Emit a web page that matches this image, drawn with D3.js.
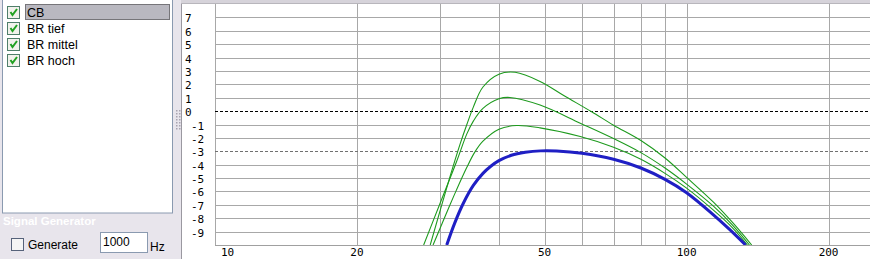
<!DOCTYPE html>
<html><head><meta charset="utf-8">
<script src="https://cdn.jsdelivr.net/npm/d3@7"></script>
<style>html,body{margin:0;padding:0;background:#e8e5ec;overflow:hidden}svg{display:block}</style>
</head><body>
<svg id="c" width="870" height="259"></svg>
<script>
// ---- data ----
const seriesNames = ["CB", "BR tief", "BR mittel", "BR hoch"];
const freqCB = [31.0, 32.2, 33.6, 35.3, 37, 38.5, 40, 42.5, 45.5, 49, 53, 60, 70, 80, 90, 100, 114, 123, 133.4];
const dbCB   = [-10, -8.4, -6.9, -5.55, -4.65, -4.1, -3.7, -3.3, -3.08, -2.97, -2.98, -3.15, -3.6, -4.25, -5.1, -6.1, -7.75, -8.8, -10];
const freqTief = [29.0, 31.5, 32.5, 34.2, 35.5, 37, 40, 43.6, 48.9, 59.5, 70, 80, 90, 100, 114, 125, 134.6];
const dbTief   = [-10, -7.0, -5.9, -4.2, -3.1, -2.25, -1.35, -1.08, -1.25, -1.9, -2.7, -3.6, -4.65, -5.75, -7.4, -8.7, -10];
const freqMittel = [27.7, 30, 32.5, 34.2, 35.3, 37, 40, 42.2, 48.9, 59.5, 70, 80, 90, 100, 114, 125, 135.9];
const dbMittel   = [-10, -6.9, -3.8, -1.7, -0.75, 0.2, 0.92, 1.02, 0.45, -0.9, -2.05, -3.1, -4.25, -5.45, -7.1, -8.5, -10];
const freqHoch = [28.6, 31.5, 33.1, 34.2, 35.3, 37, 40, 43.3, 48.9, 55, 62.9, 70, 80, 90, 100, 114, 125, 137.4];
const dbHoch   = [-10, -4.9, -2.45, -1.0, 0.3, 1.8, 2.76, 2.9, 2.22, 1.15, -0.05, -1.05, -2.2, -3.5, -4.95, -6.8, -8.3, -10];
const gridFreqs = [10, 20, 30, 40, 50, 60, 70, 80, 90, 100, 200, 300];
const labelFreqs = [10, 20, 50, 100, 200];
const yTicks = [7, 6, 5, 4, 3, 2, 1, 0, -1, -2, -3, -4, -5, -6, -7, -8, -9];
const dashedLevels = [0, -3];
const genFreq = "1000";

// ---- layout ----
const svg = d3.select("#c");
const W = 870, H = 259;
const plotL = 215, plotT = 4, plotB = 245;
const x = d3.scaleLog().domain([10, 1000]).range([plotL, plotL + 2 * 471.6]);
const y = d3.scaleLinear().domain([-10, 8]).range([plotB, plotT]);

// left panel background
svg.append("rect").attr("x", 0).attr("y", 0).attr("width", W).attr("height", H).attr("fill", "#e8e5ec");

// list box
svg.append("rect").attr("x", 2.5).attr("y", -1).attr("width", 170).attr("height", 214)
  .attr("fill", "#fff").attr("stroke", "#8a9ab0");
// selected row
svg.append("rect").attr("x", 25).attr("y", 4).attr("width", 145).attr("height", 16)
  .attr("fill", "#b9b8c0");
svg.append("rect").attr("x", 25.5).attr("y", 4.5).attr("width", 144).attr("height", 15)
  .attr("fill", "none").attr("stroke", "#333").attr("stroke-dasharray", "1,1");
const rows = svg.append("g");
seriesNames.forEach((n, i) => {
  const ry = 5 + i * 16;
  const g = rows.append("g");
  g.append("rect").attr("x", 7.5).attr("y", ry + 1.5).attr("width", 12).attr("height", 12)
    .attr("fill", "#f2f2ec").attr("stroke", "#4f7f6a");
  g.append("path").attr("d", `M10.5,${ry + 7} L12.5,${ry + 10} L17,${ry + 4}`)
    .attr("fill", "none").attr("stroke", "#21a121").attr("stroke-width", 2);
  g.append("text").attr("x", 27).attr("y", ry + 12).text(n)
    .attr("font-family", "Liberation Sans, Arial, sans-serif").attr("font-size", 12.5).attr("fill", "#000");
});

// Signal Generator section
svg.append("text").attr("x", 3).attr("y", 225).text("Signal Generator")
  .attr("font-family", "Liberation Sans, Arial, sans-serif").attr("font-size", 11.5).attr("font-weight", "bold")
  .attr("fill", "#fff");
svg.append("rect").attr("x", 11.5).attr("y", 238.5).attr("width", 12).attr("height", 12)
  .attr("fill", "#f4f4f4").attr("stroke", "#56627a");
svg.append("text").attr("x", 28).attr("y", 249).text("Generate")
  .attr("font-family", "Liberation Sans, Arial, sans-serif").attr("font-size", 12).attr("fill", "#000");
svg.append("rect").attr("x", 100.5).attr("y", 232.5).attr("width", 47).attr("height", 20)
  .attr("fill", "#fff").attr("stroke", "#8a9ab0");
svg.append("text").attr("x", 103).attr("y", 246).text(genFreq)
  .attr("font-family", "Liberation Sans, Arial, sans-serif").attr("font-size", 12).attr("fill", "#000");
svg.append("text").attr("x", 150).attr("y", 251).text("Hz")
  .attr("font-family", "Liberation Sans, Arial, sans-serif").attr("font-size", 12).attr("fill", "#000");

// splitter grip
const grip = svg.append("g");
d3.range(7).forEach(i => {
  [176, 179].forEach(gx => {
    grip.append("rect").attr("x", gx).attr("y", 110 + i * 3).attr("width", 1.5).attr("height", 1.5).attr("fill", "#a8a4b0");
  });
});

// chart panel
svg.append("rect").attr("x", 181).attr("y", 0).attr("width", W - 181).attr("height", H).attr("fill", "#d6d3da");
svg.append("rect").attr("x", 182).attr("y", 4).attr("width", W - 182).attr("height", H - 4).attr("fill", "#fff");
svg.append("line").attr("x1", 181.5).attr("x2", 181.5).attr("y1", 3).attr("y2", H).attr("stroke", "#9a98a0");
svg.append("line").attr("x1", 181).attr("x2", W).attr("y1", 3.5).attr("y2", 3.5).attr("stroke", "#b8b6bc");

// grid
const grid = svg.append("g");
yTicks.forEach(v => {
  if (dashedLevels.includes(v)) return;
  grid.append("line").attr("x1", plotL).attr("x2", W).attr("y1", Math.round(y(v)) + 0.5).attr("y2", Math.round(y(v)) + 0.5)
    .attr("stroke", "#a8a8a8");
});
gridFreqs.forEach(f => {
  const gx = Math.round(x(f)) + 0.5;
  if (gx > W) return;
  grid.append("line").attr("x1", gx).attr("x2", gx).attr("y1", plotT).attr("y2", plotB)
    .attr("stroke", "#a8a8a8");
});
grid.append("line").attr("x1", plotL).attr("x2", W).attr("y1", plotB + 0.5).attr("y2", plotB + 0.5).attr("stroke", "#a0a0a0");
dashedLevels.forEach(v => {
  grid.append("line").attr("x1", plotL).attr("x2", W).attr("y1", Math.round(y(v)) + 0.5).attr("y2", Math.round(y(v)) + 0.5)
    .attr("stroke", v === 0 ? "#000" : "#707070").attr("stroke-dasharray", "3,2");
});

// axis labels
const lab = svg.append("g").attr("font-family", "DejaVu Sans Mono, monospace").attr("font-size", 11).attr("fill", "#000");
yTicks.forEach(v => {
  lab.append("text").attr("x", v < 0 ? 191 : 185).attr("y", y(v) + 5).text(String(v));
});
labelFreqs.forEach(f => {
  const t = lab.append("text").attr("y", 256).text(String(f));
  if (f === 10) t.attr("x", 221);
  else t.attr("x", x(f)).attr("text-anchor", "middle");
});

// curves
svg.append("clipPath").attr("id", "pc").append("rect")
  .attr("x", plotL).attr("y", plotT).attr("width", W - plotL).attr("height", plotB - plotT);
const line = d3.line().x(d => x(d[0])).y(d => y(d[1])).curve(d3.curveCatmullRom.alpha(0.5));
const curves = svg.append("g").attr("clip-path", "url(#pc)");
const greens = [[freqTief, dbTief], [freqMittel, dbMittel], [freqHoch, dbHoch]];
greens.forEach(([fs, ds]) => {
  curves.append("path").datum(d3.zip(fs, ds)).attr("d", line)
    .attr("fill", "none").attr("stroke", "#1d9a1d").attr("stroke-width", 1.1);
});
curves.append("path").datum(d3.zip(freqCB, dbCB)).attr("d", line)
  .attr("fill", "none").attr("stroke", "#1f1fc4").attr("stroke-width", 3);
</script>
</body></html>
